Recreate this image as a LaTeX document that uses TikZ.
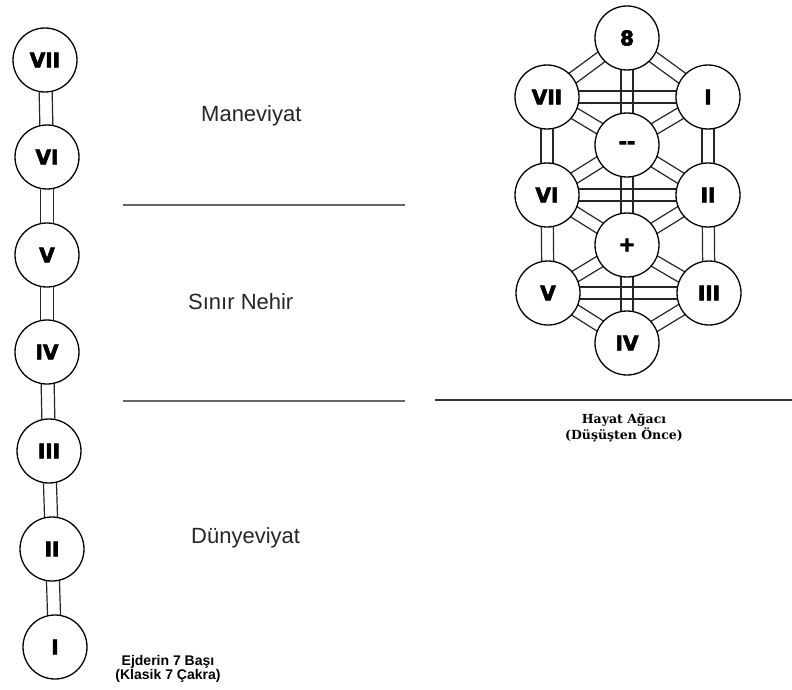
\documentclass[tikz,border=0pt]{standalone}
\usepackage{fontspec}
\setmainfont{Liberation Sans}
\newfontfamily\numfont{DejaVu Sans Bold}[FakeBold=3.5]
\newfontfamily\capserif{DejaVu Serif}
\usetikzlibrary{calc}
\pgfdeclarelayer{bg}
\pgfsetlayers{bg,main}
\newcommand{\channel}[3][6pt]{%
  \draw[rail] ($(#2.center)!#1!90:(#3.center)$) -- ($(#3.center)!#1!-90:(#2.center)$);
  \draw[rail] ($(#2.center)!#1!-90:(#3.center)$) -- ($(#3.center)!#1!90:(#2.center)$);}
\begin{document}
\begin{tikzpicture}[x=1pt,y=-1pt,
  chakra/.style={circle,draw,line width=1.3pt,fill=white,minimum size=64pt,inner sep=0pt,
    font=\numfont\fontsize{20}{20}\selectfont},
  rail/.style={line width=1.2pt,black!85},
  sepline/.style={draw=black!60,line width=1.2pt},
  region/.style={font=\fontsize{22}{26}\selectfont,anchor=base west,inner sep=0pt,text=black!85},
  caption/.style={font=\bfseries\fontsize{14}{14}\selectfont,align=center,inner sep=0pt,anchor=base},
  serifcap/.style={font=\capserif\bfseries\fontsize{12.5}{14}\selectfont,align=center,inner sep=0pt,anchor=base}
]
\useasboundingbox (0,0) rectangle (792,690);
\begin{pgfonlayer}{bg}
  \fill[white] (0,0) rectangle (792,690);
\end{pgfonlayer}

% left column: 7 chakras
\node[chakra] (L7) at (45,60) {VII};
\node[chakra] (L6) at (47,157) {VI};
\node[chakra] (L5) at (47,255) {V};
\node[chakra] (L4) at (47,352) {IV};
\node[chakra] (L3) at (49,451) {III};
\node[chakra] (L2) at (52,549) {II};
\node[chakra] (L1) at (55,647) {I};

% tree of life
\node[chakra] (T8) at (627,38) {8};
\node[chakra] (T7) at (547,97) {VII};
\node[chakra] (T1) at (708,97) {I};
\node[chakra] (Tm) at (627,145) {-{}-};
\node[chakra] (T6) at (547,195) {VI};
\node[chakra] (T2) at (708,195) {II};
\node[chakra] (Tp) at (627,245) {+};
\node[chakra] (T5) at (548,293) {V};
\node[chakra] (T3) at (709,293) {III};
\node[chakra] (T4) at (627,343) {IV};

\begin{pgfonlayer}{bg}
  \channel[6.5pt]{L7}{L6}
  \channel[6.5pt]{L6}{L5}
  \channel[6.5pt]{L5}{L4}
  \channel[6.5pt]{L4}{L3}
  \channel[6.5pt]{L3}{L2}
  \channel[6.5pt]{L2}{L1}
  \channel{T8}{T7}
  \channel{T8}{T1}
  \channel{T8}{Tm}
  \channel{T7}{T1}
  \channel{T7}{Tm}
  \channel{T1}{Tm}
  \channel{T7}{T6}
  \channel{T1}{T2}
  \channel{Tm}{T6}
  \channel{Tm}{T2}
  \channel{T6}{T2}
  \channel{Tm}{Tp}
  \channel{T6}{Tp}
  \channel{T2}{Tp}
  \channel{T6}{T5}
  \channel{T2}{T3}
  \channel{Tp}{T5}
  \channel{Tp}{T3}
  \channel{T5}{T3}
  \channel{Tp}{T4}
  \channel{T5}{T4}
  \channel{T3}{T4}
\end{pgfonlayer}

% separators
\coordinate (s1a) at (123,205);
\coordinate (s1b) at (405,205);
\coordinate (s2a) at (123,401);
\coordinate (s2b) at (405,401);
\coordinate (s3a) at (435,400);
\coordinate (s3b) at (792,400);
\draw[sepline] (s1a) -- (s1b);
\draw[sepline] (s2a) -- (s2b);
\draw[sepline,draw=black!80] (s3a) -- (s3b);

% region labels
\node[region] (mane) at (201,122) {Maneviyat};
\node[region] (sinir) at (188,309) {Sınır Nehir};
\node[region] (dunya) at (191,543) {Dünyeviyat};

% captions
\node[caption] (ejder) at (168,679) {Ejderin 7 Başı\\(Klasik 7 Çakra)};
\node[serifcap] (hayat) at (624,439) {Hayat Ağacı\\(Düşüşten Önce)};
\end{tikzpicture}
\end{document}
